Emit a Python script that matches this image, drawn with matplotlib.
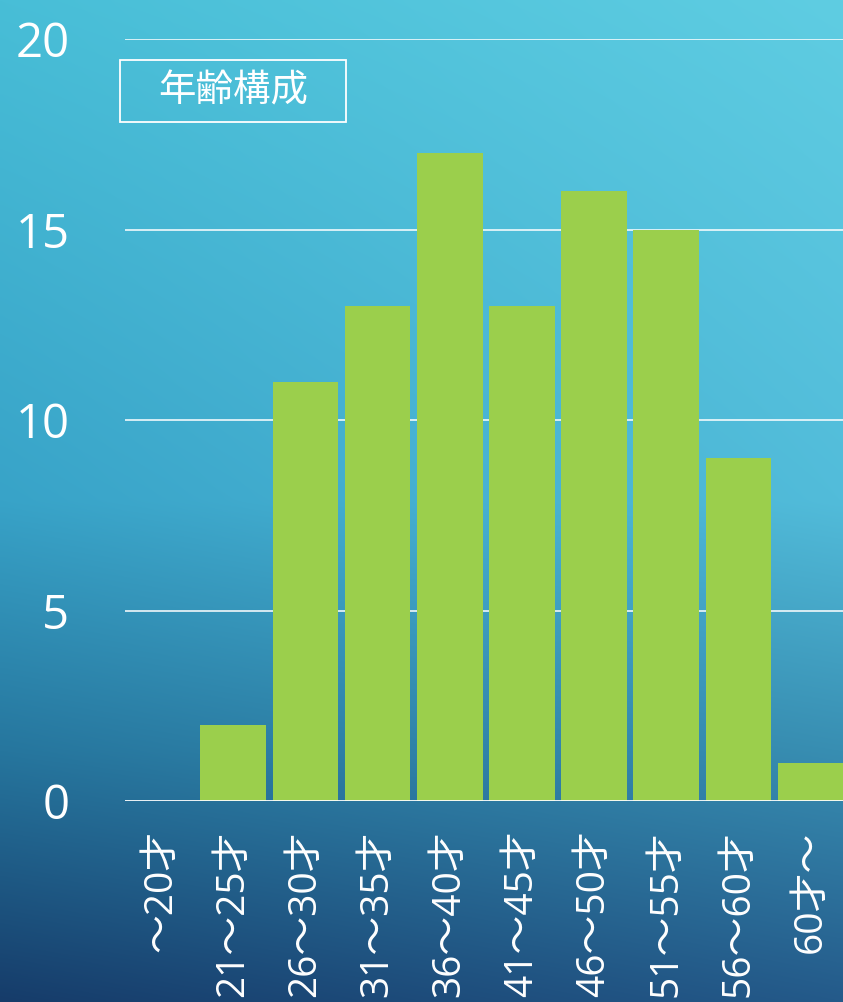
import numpy as np
import matplotlib
matplotlib.use("Agg")
import matplotlib.pyplot as plt
from matplotlib.patches import Rectangle

# Age distribution data
categories = ["〜20才", "21〜25才", "26〜30才", "31〜35才", "36〜40才",
              "41〜45才", "46〜50才", "51〜55才", "56〜60才", "60才〜"]
counts = [0, 2, 11, 13, 17, 13, 16, 15, 9, 1]
y_ticks = [0, 5, 10, 15, 20]
title_text = "年齢構成"

FONTS = ["Open Sans", "Noto Sans CJK JP", "DejaVu Sans"]
plt.rcParams["font.family"] = FONTS

W, H, DPI = 843, 1002, 100
fig = plt.figure(figsize=(W / DPI, H / DPI), dpi=DPI)

# Background gradient (light cyan at the top, deep navy at the bottom-left)
ny, nx = 400, 200
ty = np.linspace(0, 1, ny)[:, None]
sx = np.linspace(0, 1, nx)[None, :]
stops = np.array([0.0, 0.5, 0.75, 1.0])
left_cols = np.array([[72, 190, 215], [56, 163, 200], [38, 118, 158], [22, 60, 106]]) / 255
right_cols = np.array([[95, 205, 226], [82, 188, 218], [56, 142, 178], [36, 90, 138]]) / 255
img = np.zeros((ny, nx, 3))
for c in range(3):
    lc = np.interp(ty[:, 0], stops, left_cols[:, c])[:, None]
    rc = np.interp(ty[:, 0], stops, right_cols[:, c])[:, None]
    img[:, :, c] = lc * (1 - sx) + rc * sx
bg = fig.add_axes([0, 0, 1, 1], zorder=0)
bg.imshow(img, aspect="auto", extent=[0, 1, 0, 1], interpolation="bilinear")
bg.set_axis_off()

# Main chart axes
ax_l, ax_r, ax_b, ax_t = 125, 843, 801, 39
ax = fig.add_axes([ax_l / W, (H - ax_b) / H, (ax_r - ax_l) / W, (ax_b - ax_t) / H], zorder=1)
ax.patch.set_alpha(0)

x = np.arange(len(categories))
ax.bar(x, counts, width=0.91, color="#9BCF4C", zorder=2)

ax.set_ylim(0, 20)
ax.set_xlim(-0.5, 9.45)
ax.set_yticks(y_ticks)
ax.set_yticklabels([str(v) for v in y_ticks], fontsize=34, color="white")
ax.set_xticks(x)
ax.set_xticklabels(categories, rotation=90, fontsize=28, color="white")
ax.tick_params(axis="y", length=0, pad=40)
ax.tick_params(axis="x", length=0, pad=21)

for v in y_ticks[1:]:
    ax.axhline(v, color="white", lw=1.1, zorder=1)
ax.axhline(0, color="white", lw=2.0, zorder=3)

for s in ax.spines.values():
    s.set_visible(False)

# Boxed title
bx0, bx1, by0, by1 = 120, 346, 60, 122
fig.patches.append(Rectangle((bx0 / W, (H - by1) / H), (bx1 - bx0) / W, (by1 - by0) / H,
                             transform=fig.transFigure, fill=False,
                             edgecolor="white", lw=1.3, zorder=5))
fig.text((bx0 + bx1) / 2 / W, (H - (by0 + by1) / 2) / H, title_text,
         ha="center", va="center", fontsize=27, color="white", zorder=6)

fig.savefig("out.png", dpi=DPI)
